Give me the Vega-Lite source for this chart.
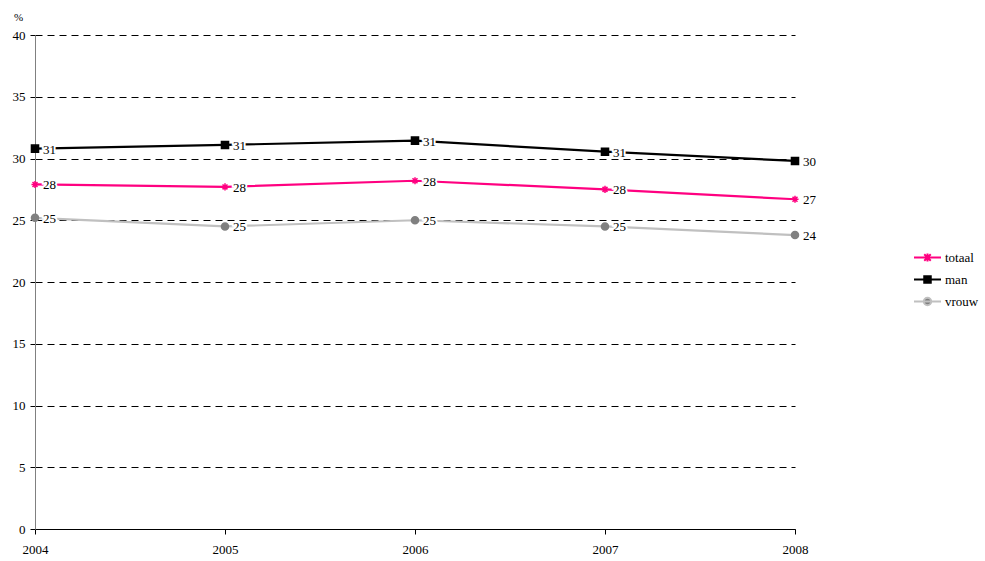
{
  "$schema": "https://vega.github.io/schema/vega-lite/v6.json",
  "autosize": "none",
  "padding": {"left": 35, "top": 35, "right": 190, "bottom": 32},
  "width": 760,
  "height": 494,
  "background": "white",
  "config": {
    "font": "Liberation Serif",
    "view": {"stroke": null},
    "axis": {"labelFont": "Liberation Serif", "labelFontSize": 13, "labelColor": "#000", "titleFont": "Liberation Serif"},
    "legend": {"labelFont": "Liberation Serif", "labelFontSize": 13, "labelColor": "#000"},
    "text": {"font": "Liberation Serif"}
  },
  "data": {
    "values": [
      {"year": "2004", "series": "man", "value": 30.8},
      {"year": "2005", "series": "man", "value": 31.1},
      {"year": "2006", "series": "man", "value": 31.45},
      {"year": "2007", "series": "man", "value": 30.55},
      {"year": "2008", "series": "man", "value": 29.8},
      {"year": "2004", "series": "totaal", "value": 27.9},
      {"year": "2005", "series": "totaal", "value": 27.7},
      {"year": "2006", "series": "totaal", "value": 28.2},
      {"year": "2007", "series": "totaal", "value": 27.5},
      {"year": "2008", "series": "totaal", "value": 26.7},
      {"year": "2004", "series": "vrouw", "value": 25.2},
      {"year": "2005", "series": "vrouw", "value": 24.5},
      {"year": "2006", "series": "vrouw", "value": 25.0},
      {"year": "2007", "series": "vrouw", "value": 24.5},
      {"year": "2008", "series": "vrouw", "value": 23.8}
    ]
  },
  "encoding": {
    "x": {
      "field": "year", "type": "ordinal",
      "scale": {"type": "point", "padding": 0},
      "axis": {"title": null, "labelAngle": 0, "domainColor": "#000", "tickColor": "#000", "tickSize": 5, "labelPadding": 9, "grid": false}
    },
    "y": {
      "field": "value", "type": "quantitative",
      "scale": {"domain": [0, 40], "nice": false, "zero": true},
      "axis": {
        "values": [0, 5, 10, 15, 20, 25, 30, 35, 40],
        "title": "%", "titleAngle": 0, "titleX": -17, "titleY": -15, "titleAlign": "center", "titleBaseline": "alphabetic", "titleFontSize": 11, "titleFontWeight": "normal",
        "grid": true, "gridColor": "#000", "gridDash": [7, 5], "gridWidth": 1, "gridOpacity": 1,
        "domainColor": "#808080", "tickColor": "#000", "tickSize": 5, "labelPadding": 5
      }
    }
  },
  "layer": [
    {
      "mark": {"type": "line", "strokeWidth": 2.2},
      "encoding": {
        "color": {
          "field": "series", "type": "nominal",
          "scale": {"domain": ["totaal", "man", "vrouw"], "range": ["#FF0080", "#000000", "#C0C0C0"]},
          "legend": {
            "title": null,
            "orient": "none",
            "legendX": 886,
            "legendY": 216,
            "symbolSize": 100,
            "symbolStrokeWidth": 2,
            "labelOffset": 11,
            "rowPadding": 6,
            "encoding": {
              "symbols": {
                "shape": {"value": {"expr": "datum.value === 'man' ? 'M-2.7,0H2.7M-0.65,-0.65H0.65V0.65H-0.65Z' : datum.value === 'vrouw' ? 'M-2.7,0H2.7M-0.75,0A0.75,0.75 0 1,0 0.75,0A0.75,0.75 0 1,0 -0.75,0Z' : 'M-2.7,0H2.7M-0.65,-0.65L0.65,0.65M-0.65,0.65L0.65,-0.65M0,-0.8V0.8'"}},
                "fill": {"value": {"expr": "datum.value === 'man' ? '#000000' : datum.value === 'vrouw' ? '#808080' : 'transparent'"}},
                "stroke": {"value": {"expr": "datum.value === 'man' ? '#000000' : datum.value === 'vrouw' ? '#C0C0C0' : '#FF0080'"}}
              }
            }
          }
        }
      }
    },
    {
      "mark": {"type": "point", "filled": false, "opacity": 1, "strokeWidth": 1.5},
      "encoding": {
        "shape": {
          "field": "series", "type": "nominal",
          "scale": {"domain": ["man", "totaal", "vrouw"], "range": ["square", "M-1,0H1M-0.7,-0.7L0.7,0.7M-0.7,0.7L0.7,-0.7M0,-1V1", "circle"]},
          "legend": null
        },
        "fill": {
          "field": "series", "type": "nominal",
          "scale": {"domain": ["man", "totaal", "vrouw"], "range": ["#000000", "transparent", "#808080"]},
          "legend": null
        },
        "stroke": {
          "field": "series", "type": "nominal",
          "scale": {"domain": ["man", "totaal", "vrouw"], "range": ["#000000", "#FF0080", "#808080"]},
          "legend": null
        },
        "size": {"value": 50}
      }
    },
    {
      "mark": {"type": "text", "align": "left", "baseline": "middle", "dx": 8, "dy": 1, "fontSize": 13, "stroke": "white", "strokeWidth": 4, "fill": "white"},
      "encoding": {"text": {"field": "value", "type": "quantitative", "format": ".0f"}}
    },
    {
      "mark": {"type": "text", "align": "left", "baseline": "middle", "dx": 8, "dy": 1, "fontSize": 13, "fill": "#000"},
      "encoding": {"text": {"field": "value", "type": "quantitative", "format": ".0f"}}
    }
  ]
}
